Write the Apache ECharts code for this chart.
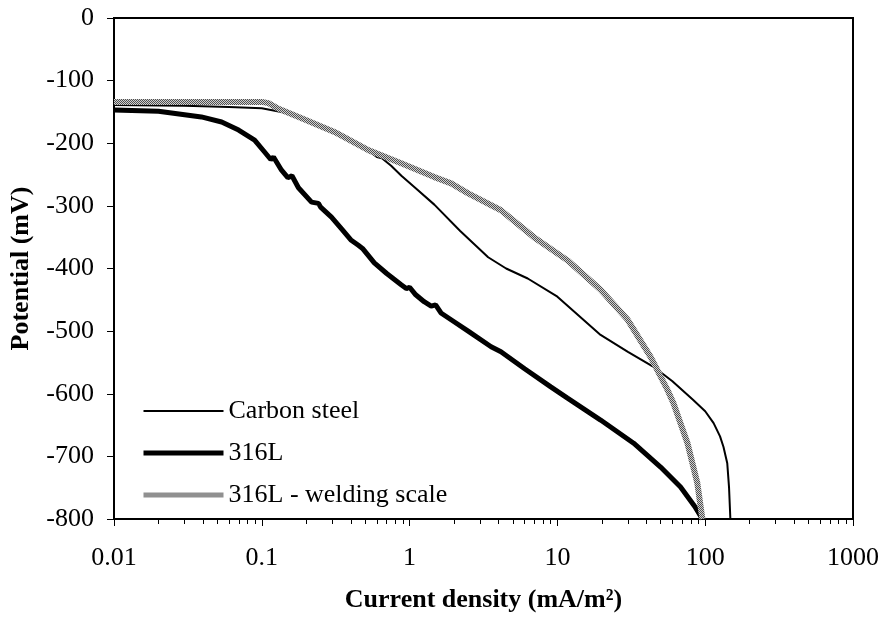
<!DOCTYPE html>
<html>
<head>
<meta charset="utf-8">
<script src="https://cdn.jsdelivr.net/npm/echarts@6/dist/echarts.min.js"></script>
<style>
html,body{margin:0;padding:0;background:#fff;}
#chart{width:882px;height:621px;}
</style>
</head>
<body>
<div id="chart"></div>
<script>
// Data (x: current density mA/m², y: potential mV)
const seriesNames = ['Carbon steel', '316L', '316L - welding scale'];
const carbonSteel = [[0.01,-139],[0.03,-140],[0.06,-142],[0.1,-144],[0.15,-152],[0.19,-163],[0.28,-180],[0.4,-195],[0.55,-215],[0.6,-222],[0.65,-224],[0.75,-236],[0.88,-252],[1.1,-272],[1.47,-298],[2.2,-340],[3.4,-382],[4.5,-400],[6.3,-416],[10,-445],[19.6,-506],[30,-533],[44.7,-557],[60,-580],[83,-610],[100,-628],[114,-647],[126,-668],[133,-685],[141,-711],[145,-750],[148,-800]];
const steel316L = [[0.01,-147],[0.02,-149],[0.039,-158],[0.0535,-166],[0.0697,-179],[0.0894,-195],[0.1044,-214],[0.115,-226],[0.12,-222],[0.136,-243],[0.15,-255],[0.16,-252],[0.177,-271],[0.217,-294],[0.242,-296],[0.25,-302],[0.296,-318],[0.35,-338],[0.403,-355],[0.45,-363],[0.48,-368],[0.577,-391],[0.7,-408],[0.877,-426],[0.95,-432],[1.0,-430],[1.1,-442],[1.254,-453],[1.4,-460],[1.5,-458],[1.63,-471],[2.0,-485],[2.49,-500],[3.56,-525],[4.15,-533],[6,-560],[9.02,-589],[11.7,-607],[19.6,-642],[32.8,-679],[49.9,-717],[68.1,-749],[85,-780],[95.7,-800]];
const weldingScale = [[0.01,-134],[0.05,-134],[0.1,-134],[0.111,-136],[0.13,-145],[0.186,-160],[0.31,-182],[0.526,-211],[0.877,-232],[1.47,-254],[1.91,-264],[2.49,-280],[4.15,-307],[6.93,-350],[11.7,-387],[19.6,-434],[29.9,-482],[42.7,-541],[55.6,-594],[61,-615],[75.9,-679],[88.5,-743],[95.7,-800]];
const xMin = 0.01, xMax = 1000;
const yMin = -800, yMax = 0, yStep = 100;

// dotted grey texture for the welding-scale line
const pc = document.createElement('canvas');
pc.width = 2; pc.height = 2;
const pctx = pc.getContext('2d');
pctx.fillStyle = '#d0d0d0'; pctx.fillRect(0,0,2,2);
pctx.fillStyle = '#505050'; pctx.fillRect(0,0,1,1); pctx.fillRect(1,1,1,1);
const weldColor = {image:pc, repeat:'repeat'};

const FONT = 'Liberation Serif';
const chart = echarts.init(document.getElementById('chart'), null, {renderer:'canvas'});
chart.setOption({
  animation: false,
  backgroundColor: '#fff',
  grid: {left:112, right:29, top:18, bottom:102, show:true, borderColor:'#000', borderWidth:2},
  legend: {
    orient:'vertical', left:136, top:393, itemWidth:80, itemHeight:14, itemGap:16,
    textStyle:{fontFamily:FONT, fontSize:26, color:'#000', lineHeight:26},
    itemStyle:{opacity:0},
    data: [
      {name:seriesNames[0], lineStyle:{width:2, color:'#000'}},
      {name:seriesNames[1], lineStyle:{width:5, color:'#000'}},
      {name:seriesNames[2], lineStyle:{width:5, color:weldColor}}
    ]
  },
  xAxis: {
    type:'log', logBase:10, min:xMin, max:xMax,
    name:'Current density (mA/m²)', nameLocation:'middle', nameGap:68,
    nameTextStyle:{fontFamily:FONT, fontSize:26, fontWeight:'bold', color:'#000'},
    axisLine:{show:true, onZero:false, lineStyle:{color:'#000', width:2}},
    axisTick:{show:true, inside:false, length:7, lineStyle:{color:'#000', width:1}},
    minorTick:{show:true, splitNumber:9, length:5, lineStyle:{color:'#000', width:1}},
    axisLabel:{fontFamily:FONT, fontSize:26, color:'#000', margin:26,
      formatter: v => String(+v.toPrecision(3))},
    splitLine:{show:false}, minorSplitLine:{show:false}
  },
  yAxis: {
    type:'value', min:yMin, max:yMax, interval:yStep,
    name:'Potential (mV)', nameLocation:'middle', nameGap:80,
    nameTextStyle:{fontFamily:FONT, fontSize:26, fontWeight:'bold', color:'#000'},
    axisLine:{show:true, onZero:false, lineStyle:{color:'#000', width:2}},
    axisTick:{show:true, inside:false, length:7, lineStyle:{color:'#000', width:1}},
    axisLabel:{fontFamily:FONT, fontSize:26, color:'#000', margin:20},
    splitLine:{show:false}
  },
  series: [
    {name:seriesNames[0], type:'line', data:carbonSteel, showSymbol:false, symbol:'none',
     lineStyle:{color:'#000', width:2}, itemStyle:{color:'#000'}},
    {name:seriesNames[1], type:'line', data:steel316L, showSymbol:false, symbol:'none',
     lineStyle:{color:'#000', width:5}, itemStyle:{color:'#000'}},
    {name:seriesNames[2], type:'line', data:weldingScale, showSymbol:false, symbol:'none',
     lineStyle:{color:weldColor, width:6}, itemStyle:{color:'#999'}}
  ]
});
</script>
</body>
</html>
